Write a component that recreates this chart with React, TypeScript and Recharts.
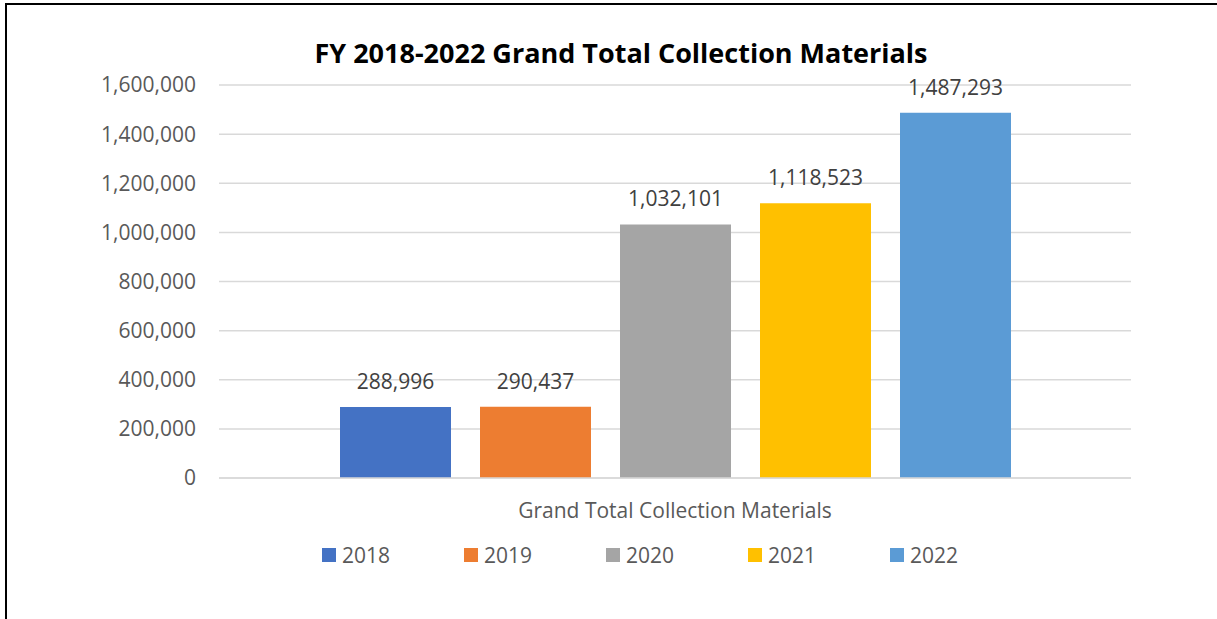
import React from "react";
import { BarChart, Bar, XAxis, YAxis, CartesianGrid, Legend, LabelList } from "recharts";

const categories = ["Grand Total Collection Materials"];
const years = ["2018", "2019", "2020", "2021", "2022"];
const values = [288996, 290437, 1032101, 1118523, 1487293];
const colors = ["#4472C4", "#ED7D31", "#A5A5A5", "#FFC000", "#5B9BD5"];
const yTicks = [0, 200000, 400000, 600000, 800000, 1000000, 1200000, 1400000, 1600000];
const title = "FY 2018-2022 Grand Total Collection Materials";

const data = categories.map((name) => {
  const row: Record<string, string | number> = { name };
  years.forEach((y, i) => {
    row["y" + y] = values[i];
  });
  return row;
});

const FONT = "'Open Sans', 'Noto Sans', sans-serif";
const fmt = (v: number) => v.toLocaleString("en-US");

const LegendContent = () => (
  <div style={{ position: "relative", width: 1217, height: 24, fontFamily: FONT }}>
    {years.map((y, i) => (
      <div
        key={y}
        style={{
          position: "absolute",
          left: 322 + i * 142,
          top: 0,
          display: "flex",
          alignItems: "center",
          height: 24,
        }}
      >
        <div style={{ width: 14, height: 14, background: colors[i], marginRight: 6 }} />
        <span style={{ fontSize: 21, color: "#595959", lineHeight: "24px" }}>{y}</span>
      </div>
    ))}
  </div>
);

export default function App() {
  return (
    <div style={{ position: "relative", width: 1217, height: 619, overflow: "hidden", background: "#fff" }}>
      <style>{`body{margin:0;}`}</style>
      <div
        style={{
          position: "absolute",
          left: 5,
          top: 3,
          width: 1230,
          height: 640,
          border: "2px solid #000",
          boxSizing: "border-box",
        }}
      />
      <div
        style={{
          position: "absolute",
          left: 0,
          width: 1242,
          top: 36,
          textAlign: "center",
          fontFamily: FONT,
          fontWeight: 700,
          fontSize: 27,
          color: "#000",
          lineHeight: "34px",
          whiteSpace: "nowrap",
        }}
      >
        {title}
      </div>
      <div style={{ position: "absolute", left: 0, top: 0 }}>
        <BarChart
          width={1217}
          height={619}
          data={data}
          margin={{ top: 85, right: 86, bottom: 87, left: 0 }}
          barGap={29}
        >
          <CartesianGrid vertical={false} stroke="#d9d9d9" strokeWidth={1.5} />
          <XAxis
            dataKey="name"
            tickLine={false}
            axisLine={{ stroke: "#d9d9d9", strokeWidth: 1.5 }}
            tickSize={0}
            tickMargin={25}
            tick={{ fontSize: 21, fill: "#595959", fontFamily: FONT }}
          />
          <YAxis
            width={219}
            domain={[0, 1600000]}
            ticks={yTicks}
            axisLine={false}
            tickLine={false}
            tickSize={0}
            tickMargin={23}
            tickFormatter={fmt}
            tick={{ fontSize: 21, fill: "#595959", fontFamily: FONT }}
          />
          <Legend
            verticalAlign="bottom"
            wrapperStyle={{ position: "absolute", top: 543, left: 0, width: 1217 }}
            content={LegendContent}
          />
          {years.map((y, i) => (
            <Bar key={y} dataKey={"y" + y} name={y} fill={colors[i]} barSize={111} isAnimationActive={false}>
              <LabelList
                dataKey={"y" + y}
                position="top"
                offset={18}
                formatter={(v: number) => fmt(v)}
                style={{ fontSize: 21, fill: "#404040", fontFamily: FONT }}
              />
            </Bar>
          ))}
        </BarChart>
      </div>
    </div>
  );
}
